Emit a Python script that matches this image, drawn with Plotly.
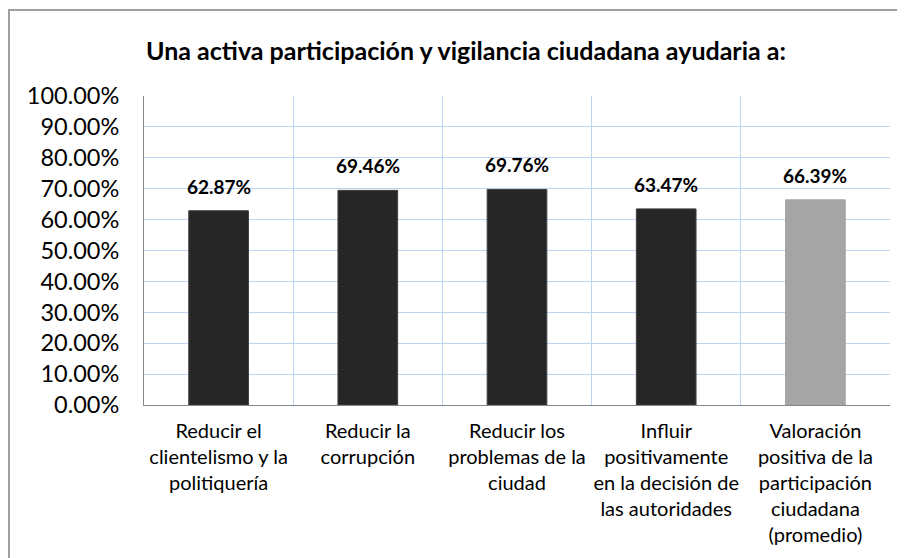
import plotly.graph_objects as go

categories = [
    "Reducir el<br>clientelismo y la<br>politiquería",
    "Reducir la<br>corrupción",
    "Reducir los<br>problemas de la<br>ciudad",
    "Influir<br>positivamente<br>en la decisión de<br>las autoridades",
    "Valoración<br>positiva de la<br>participación<br>ciudadana<br>(promedio)",
]
values = [0.6287, 0.6946, 0.6976, 0.6347, 0.6639]
bar_colors = ["#262626", "#262626", "#262626", "#262626", "#a5a5a5"]
line_colors = ["#404040", "#404040", "#404040", "#404040", "#a5a5a5"]
title_text = "Una activa participación y vigilancia ciudadana ayudaria a:"

FONT = "Lato"
OFF = 8  # page body margin

fig = go.Figure()
fig.add_trace(go.Bar(
    x=categories, y=values,
    marker=dict(color=bar_colors, line=dict(color=line_colors, width=1)),
    width=0.4,
    hoverinfo="skip",
))

for c, v in zip(categories, values):
    fig.add_annotation(
        x=c, y=v, text=f"<b>{v*100:.2f}%</b>", showarrow=False,
        yanchor="bottom", yshift=11,
        font=dict(family=FONT, size=19, color="#000000"),
    )

W, H = 905 - OFF, 558 - OFF
L, T = 144 - OFF, 96 - OFF
R = W - (890 - OFF)
B = H - (405 - OFF)
pw, ph = W - L - R, H - T - B

# outer chart border (top and left visible)
fig.add_shape(
    type="rect", xref="paper", yref="paper",
    x0=(1 - L) / pw, x1=1.5, y0=-1.0, y1=(H - B - 2) / ph,
    line=dict(color="#a0a0a0", width=2), layer="below",
)

fig.update_layout(
    width=W, height=H,
    margin=dict(l=L, r=R, t=T, b=B, autoexpand=False),
    paper_bgcolor="white", plot_bgcolor="white",
    showlegend=False,
    title=dict(
        text=f"<b>{title_text}</b>",
        x=(466 - OFF) / W, xanchor="center", xref="container",
        y=1 - (51 - OFF) / H, yanchor="middle", yref="container",
        font=dict(family=FONT, size=25, color="#000000"),
    ),
    font=dict(family=FONT, color="#000000"),
)

fig.update_xaxes(
    type="category", tickson="boundaries",
    showgrid=True, gridcolor="#bcd4f2", gridwidth=1,
    showline=True, linecolor="#868686", linewidth=1,
    ticks="", ticklabelstandoff=8, automargin=False, tickangle=0,
    tickfont=dict(family=FONT, size=20, color="#000000"),
    range=[-0.5, 4.5],
    mirror=False,
)
fig.update_yaxes(
    range=[0, 1], dtick=0.1, tick0=0, tickformat=".2%",
    showgrid=True, gridcolor="#bcd4f2", gridwidth=1,
    showline=True, linecolor="#868686", linewidth=1,
    ticks="", ticklabelstandoff=19, automargin=False,
    tickfont=dict(family=FONT, size=23.5, color="#000000"),
    zeroline=False,
)

fig.write_html("out.html")
